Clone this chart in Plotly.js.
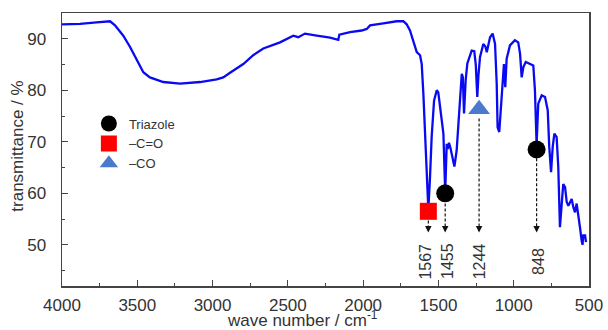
<!DOCTYPE html>
<html>
<head>
<meta charset="utf-8">
<script src="https://cdn.plot.ly/plotly-3.0.1.min.js"></script>
<style>html,body{margin:0;padding:0;background:#fff}#chart{width:608px;height:330px}</style>
</head>
<body>
<div id="chart"></div>
<script>
// FTIR spectrum (wave number, transmittance)
var waveNumber = [4000,3880,3770,3681,3648,3593,3548,3504,3460,3416,3327,3216,3083,2973,2929,2884,2840,2796,2730,2663,2552,2464,2431,2386,2308,2220,2165,2158,2087,2010,1976,1954,1866,1777,1733,1711,1689,1667,1644,1622,1611,1600,1589,1574,1567,1556,1545,1529,1511,1501,1490,1478,1467,1455,1445,1438,1430,1420,1405,1394,1379,1357,1345,1338,1330,1319,1308,1279,1262,1252,1242,1234,1224,1202,1188,1179,1168,1157,1140,1124,1113,1107,1096,1080,1065,1056,1047,1025,992,970,958,947,936,920,892,870,859,848,837,814,792,774,764,752,741,730,715,704,693,681,671,659,648,637,615,604,593,582,571,560,549,543,538,526,520];
var transmittance = [92.8,92.9,93.2,93.4,92.6,90.6,88.4,85.8,83.5,82.5,81.6,81.3,81.6,82.1,82.5,83.4,84.2,85.1,86.8,88.1,89.3,90.6,90.3,91.0,90.6,90.2,89.8,90.8,91.3,91.6,91.9,92.6,93.0,93.4,93.4,92.8,91.6,89.3,87.4,86.8,85.1,79.3,70.9,59.2,56.8,63.1,70.9,78.0,80.0,79.6,76.7,73.5,71.6,60.2,69.6,68.6,69.8,68.8,66.5,65.2,68.3,78.7,83.2,82.6,75.5,82.0,85.2,87.7,87.6,85.0,78.7,83.0,86.4,89.0,88.5,87.4,89.2,90.3,91.0,89.0,81.3,72.8,71.9,78.0,85.1,80.6,86.1,88.7,89.7,89.3,87.1,82.5,84.5,85.5,85.1,84.8,80.0,69.5,77.4,79.0,78.7,76.1,69.0,64.1,69.0,71.6,70.9,65.1,53.4,57.3,61.8,61.2,58.3,57.6,58.9,57.3,56.3,58.0,56.0,53.4,50.8,50.0,51.8,51.8,50.5];

// Band markers
var triazoleX = [1455, 848];
var triazoleY = [60.0, 68.5];
var carbonylX = [1567];
var carbonylY = [56.5];
var coX = [1230];
var coY = [76.3];

// Band labels / arrows
var bandX = [1567, 1455, 1230, 848];
var bandLabels = ['1567', '1455', '1244', '848'];
var arrowTopY = [54.7, 58.0, 74.5, 66.8];
var arrowTipY = 52.4;
var labelY = 46.8;
var labelShift = [-3, 2.5, 0, 2];

var xTickVals = [4000,3500,3000,2500,2000,1500,1000,500];
var yTickVals = [50,60,70,80,90];
var xRange = [4000, 500];
var yRange = [42, 95];
var xTitle = 'wave number / cm<sup>-1</sup>';
var yTitle = 'transmittance / %';

var FONT = 'Liberation Sans, Arial, sans-serif';

var traces = [
  {x: waveNumber, y: transmittance, mode: 'lines', line: {color: '#0a0af2', width: 2.3}, showlegend: false, hoverinfo: 'skip'},
  {x: triazoleX, y: triazoleY, mode: 'markers', name: 'Triazole', marker: {symbol: 'circle', color: '#000', size: 18}},
  {x: carbonylX, y: carbonylY, mode: 'markers', name: '\u2013C=O', marker: {symbol: 'square', color: '#ff0000', size: 17}},
  {x: coX, y: coY, mode: 'markers', name: '\u2013CO', marker: {symbol: 'triangle-up', color: '#4a7acc', size: 19}},
  // empty helper trace so the tick-only overlay axis is drawn
  {x: [null], y: [null], xaxis: 'x2', yaxis: 'y', mode: 'markers', showlegend: false, hoverinfo: 'skip'}
];

var shapes = [];
var annotations = [];
for (var i = 0; i < bandX.length; i++) {
  shapes.push({type: 'line', xref: 'x', yref: 'y', x0: bandX[i], x1: bandX[i], y0: arrowTopY[i], y1: arrowTipY + 1.2,
    line: {color: '#111', width: 1.2, dash: '3px,2px'}});
  annotations.push({x: bandX[i], y: arrowTipY, xref: 'x', yref: 'y', text: '', showarrow: true,
    arrowhead: 2, arrowsize: 1, arrowwidth: 1.3, arrowcolor: '#111', ax: 0, ay: -8});
  annotations.push({x: bandX[i], y: labelY, xref: 'x', yref: 'y', text: bandLabels[i], showarrow: false,
    textangle: -90, xshift: labelShift[i], font: {family: FONT, size: 16, color: '#333'}});
}
// axis titles placed as annotations for precise positioning
annotations.push({xref: 'paper', yref: 'paper', x: 0.456, y: -0.12, xanchor: 'center', yanchor: 'middle',
  text: xTitle, showarrow: false, font: {family: FONT, size: 17, color: '#333'}});
annotations.push({xref: 'paper', yref: 'paper', x: -0.0835, y: 0.514, xanchor: 'center', yanchor: 'middle',
  text: yTitle, textangle: -90, showarrow: false, font: {family: FONT, size: 17, color: '#333'}});

var layout = {
  width: 608, height: 330,
  margin: {l: 62, r: 19, t: 13, b: 44},
  paper_bgcolor: '#fff', plot_bgcolor: '#fff',
  font: {family: FONT, color: '#333'},
  xaxis: {
    range: xRange, tickvals: xTickVals, ticks: 'outside', ticklen: 3, tickcolor: 'rgba(0,0,0,0)',
    showline: true, mirror: true, linecolor: '#444', linewidth: 1.5, showgrid: false, zeroline: false,
    tickfont: {size: 17, color: '#333'}
  },
  xaxis2: {
    overlaying: 'x', anchor: 'y', side: 'bottom', range: xRange, tickvals: xTickVals,
    ticks: 'inside', ticklen: 6, tickcolor: '#444', showticklabels: false,
    minor: {dtick: 250, ticks: 'inside', ticklen: 3, tickcolor: '#444'},
    showline: false, showgrid: false, zeroline: false
  },
  yaxis: {
    range: yRange, tickvals: yTickVals, ticks: 'inside', ticklen: 6, tickcolor: '#444',
    minor: {dtick: 5, ticks: 'inside', ticklen: 3, tickcolor: '#444'},
    showline: true, mirror: true, linecolor: '#444', linewidth: 1.5, showgrid: false, zeroline: false,
    tickfont: {size: 17, color: '#333'}, ticklabelstandoff: 11
  },
  showlegend: true,
  legend: {x: 0.051, y: 0.65, xanchor: 'left', yanchor: 'top', bgcolor: 'rgba(0,0,0,0)',
    font: {size: 13, color: '#333'}, tracegroupgap: 0},
  shapes: shapes,
  annotations: annotations
};

Plotly.newPlot('chart', traces, layout, {displayModeBar: false, staticPlot: true});
</script>
</body>
</html>
